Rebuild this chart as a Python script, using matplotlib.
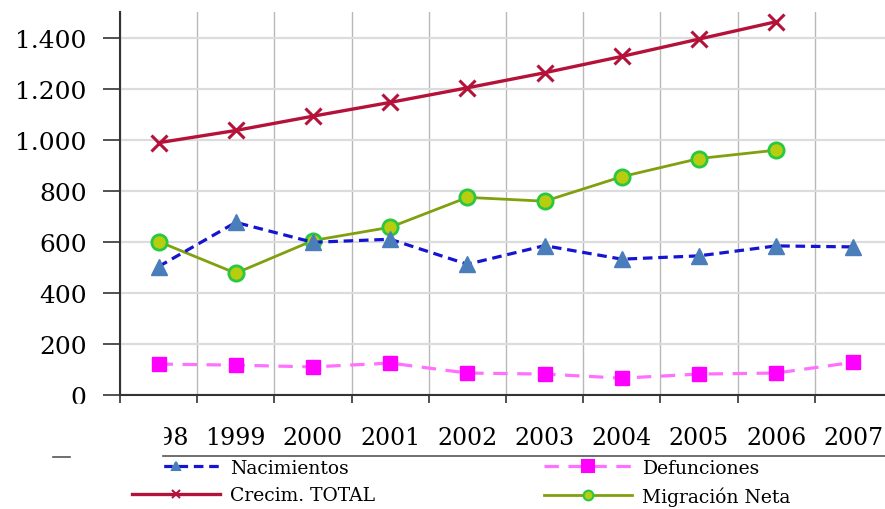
import matplotlib.pyplot as plt
import numpy as np
from matplotlib.lines import Line2D
from matplotlib.patches import Rectangle
from matplotlib.ticker import FuncFormatter

plt.rcParams["font.family"] = ["DejaVu Serif"]

years = ["1998", "1999", "2000", "2001", "2002", "2003", "2004", "2005", "2006", "2007"]
nacimientos = [503, 676, 598, 610, 512, 585, 532, 545, 584, 580]
defunciones = [121, 117, 110, 125, 86, 82, 66, 82, 86, 128]
crecim_total = [988, 1036, 1092, 1146, 1203, 1262, 1326, 1394, 1462, np.nan]
migracion_neta = [601, 477, 605, 657, 774, 759, 855, 926, 959, np.nan]

W, H = 885, 510
fig = plt.figure(figsize=(W / 100, H / 100), dpi=100)
# plot area in pixels (left, bottom, width, height); runs a bit past the right edge
ax = fig.add_axes([120 / W, 114 / H, 772 / W, 383 / H])

x = np.arange(len(years))

ax.plot(x, crecim_total, color="#b5123a", lw=2.4, marker="x", ms=11, mew=2.2,
        label="Crecim. TOTAL", zorder=4)
ax.plot(x, migracion_neta, color="#80a010", lw=2.0, marker="o", ms=11,
        mfc="#b8cc10", mec="#28c840", mew=2, label="Migración Neta", zorder=4)
ax.plot(x, nacimientos, color="#1414d2", lw=2.3, ls=(0, (3, 1.8)), marker="^", ms=11,
        mfc="#4a7ebb", mec="#4a7ebb", label="Nacimientos", zorder=5)
ax.plot(x, defunciones, color="#ff70ff", lw=2.3, ls=(0, (4.5, 3)), marker="s", ms=10,
        mfc="#ff00ff", mec="#ff00ff", label="Defunciones", zorder=5)

ax.set_xlim(-0.5, len(years) - 0.5)
ax.set_ylim(0, 1500)

# boundaries between years carry ticks + gridlines, labels sit in the middle
ax.set_xticks(np.arange(len(years) + 1) - 0.5)
ax.set_xticklabels([])
ax.set_xticks(x, minor=True)
ax.set_xticklabels(years, minor=True, fontsize=17)
ax.tick_params(axis="x", which="major", direction="out", length=6, width=1.2, color="#333333")
ax.tick_params(axis="x", which="minor", length=0, pad=22)

ax.set_yticks(np.arange(0, 1401, 200))
ax.yaxis.set_major_formatter(FuncFormatter(lambda v, p: f"{int(v):,}".replace(",", ".")))
ax.tick_params(axis="y", direction="out", length=12, width=1.2, color="#333333",
               labelsize=18, pad=12)

ax.xaxis.grid(True, which="major", color="#b8b8b8", lw=1.0)
ax.yaxis.grid(True, color="#dcdcdc", lw=1.6)
ax.set_axisbelow(True)

for s in ["top", "right"]:
    ax.spines[s].set_visible(False)
for s in ["left", "bottom"]:
    ax.spines[s].set_color("#333333")
    ax.spines[s].set_linewidth(1.5)

handles, labels = ax.get_legend_handles_labels()
order = [labels.index(l) for l in ["Nacimientos", "Crecim. TOTAL", "Defunciones", "Migración Neta"]]
leg = fig.legend([handles[i] for i in order], [labels[i] for i in order], ncol=2,
                 loc="upper left", bbox_to_anchor=(128 / W, 1 - 456 / H),
                 frameon=False, fontsize=13.5, handlelength=4.7, handletextpad=0.55,
                 columnspacing=9.0, labelspacing=0.5, borderaxespad=0, borderpad=0.2)
# smaller markers in the legend keys
for h, ms in zip(leg.legend_handles, [6, 6, 8, 7]):
    h.set_markersize(ms)
    h.set_markeredgewidth(1.5)

# white patch over the left part of the axis labels / legend, as in the source
fig.add_artist(Rectangle((0, 1 - 478 / H), 163 / W, 73 / H, transform=fig.transFigure,
                         color="white", zorder=10))
fig.add_artist(Line2D([163 / W, 1], [1 - 457 / H] * 2, transform=fig.transFigure,
                      color="#555555", lw=1.2, zorder=11))
fig.add_artist(Line2D([53 / W, 70 / W], [1 - 458 / H] * 2, transform=fig.transFigure,
                      color="#555555", lw=1.2, zorder=11))

fig.savefig("out.png", dpi=100)
